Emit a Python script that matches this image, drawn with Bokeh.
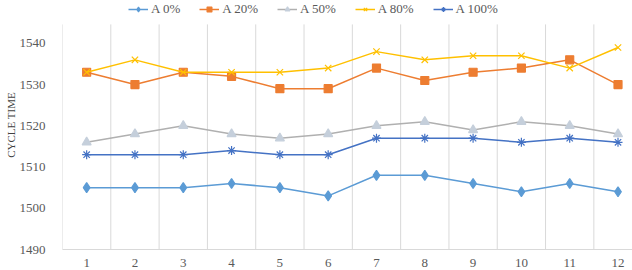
from bokeh.plotting import figure
from bokeh.models import FixedTicker, Range1d, Legend, LegendItem
from bokeh.embed import file_html
from bokeh.resources import INLINE

cycles = [1, 2, 3, 4, 5, 6, 7, 8, 9, 10, 11, 12]
a0 = [1505, 1505, 1505, 1506, 1505, 1503, 1508, 1508, 1506, 1504, 1506, 1504]
a20 = [1533, 1530, 1533, 1532, 1529, 1529, 1534, 1531, 1533, 1534, 1536, 1530]
a50 = [1516, 1518, 1520, 1518, 1517, 1518, 1520, 1521, 1519, 1521, 1520, 1518]
a80 = [1533, 1536, 1533, 1533, 1533, 1534, 1538, 1536, 1537, 1537, 1534, 1539]
a100 = [1513, 1513, 1513, 1514, 1513, 1513, 1517, 1517, 1517, 1516, 1517, 1516]
y_ticks = [1490, 1500, 1510, 1520, 1530, 1540]

FONT = "Liberation Serif"
Y_MIN, Y_GRID_TOP, Y_TOP = 1490, 1544.6, 1550.4

p = figure(width=632, height=270, output_backend="svg", toolbar_location=None,
           x_range=Range1d(0.5, 12.3), y_range=Range1d(Y_MIN, Y_TOP),
           min_border_left=62, min_border_right=0, min_border_top=0, min_border_bottom=21)
p.outline_line_color = None
p.background_fill_color = "white"

p.xaxis.ticker = FixedTicker(ticks=cycles)
p.yaxis.ticker = FixedTicker(ticks=y_ticks)
p.xgrid.grid_line_color = None
p.ygrid.grid_line_color = None

# category-boundary gridlines (Excel style), stopping below the legend band
bounds = [c - 0.5 for c in cycles] + [cycles[-1] + 0.5]
p.segment(x0=bounds, y0=[Y_MIN] * len(bounds), x1=bounds, y1=[Y_GRID_TOP] * len(bounds),
          line_color="#d9d9d9", line_width=1)

for ax in (p.xaxis, p.yaxis):
    ax.major_tick_line_color = None
    ax.minor_tick_line_color = None
    ax.major_label_text_font = FONT
    ax.major_label_text_font_size = "13px"
    ax.major_label_text_color = "#595959"
p.yaxis.axis_line_color = None
p.xaxis.axis_line_color = "#d9d9d9"
p.yaxis.major_label_standoff = 11
p.xaxis.major_label_standoff = 3
p.yaxis.axis_label = "CYCLE TIME"
p.yaxis.axis_label_text_font = FONT
p.yaxis.axis_label_text_font_style = "normal"
p.yaxis.axis_label_text_font_size = "11px"
p.yaxis.axis_label_text_color = "#404040"
p.yaxis.axis_label_standoff = 0

items = []
series = [
    ("A 0%", a0, "#5B9BD5", "diamond", "#5B9BD5", 10),
    ("A 20%", a20, "#ED7D31", "square", "#ED7D31", 8),
    ("A 50%", a50, "#B0B0B0", "triangle", "#C5CFDB", 9),
    ("A 80%", a80, "#FFC000", "x", "#FFC000", 9),
    ("A 100%", a100, "#4472C4", "asterisk", "#4472C4", 9),
]
for name, vals, col, mk, fill, sz in series:
    ln = p.line(cycles, vals, line_color=col, line_width=1.5)
    sc = p.scatter(cycles, vals, marker=mk, size=sz, line_color=col if mk in ("x", "asterisk") else fill,
                   fill_color=fill, line_width=1.2)
    items.append(LegendItem(label=name, renderers=[ln, sc]))

legend = Legend(items=items, orientation="horizontal", location=(66, 232),
                label_text_font=FONT, label_text_font_size="13px", label_text_color="#595959",
                glyph_width=20, glyph_height=12, spacing=19, padding=0, margin=0,
                label_standoff=3, border_line_color=None, background_fill_alpha=0)
p.add_layout(legend)

open("out.html", "w").write(file_html(p, INLINE))
